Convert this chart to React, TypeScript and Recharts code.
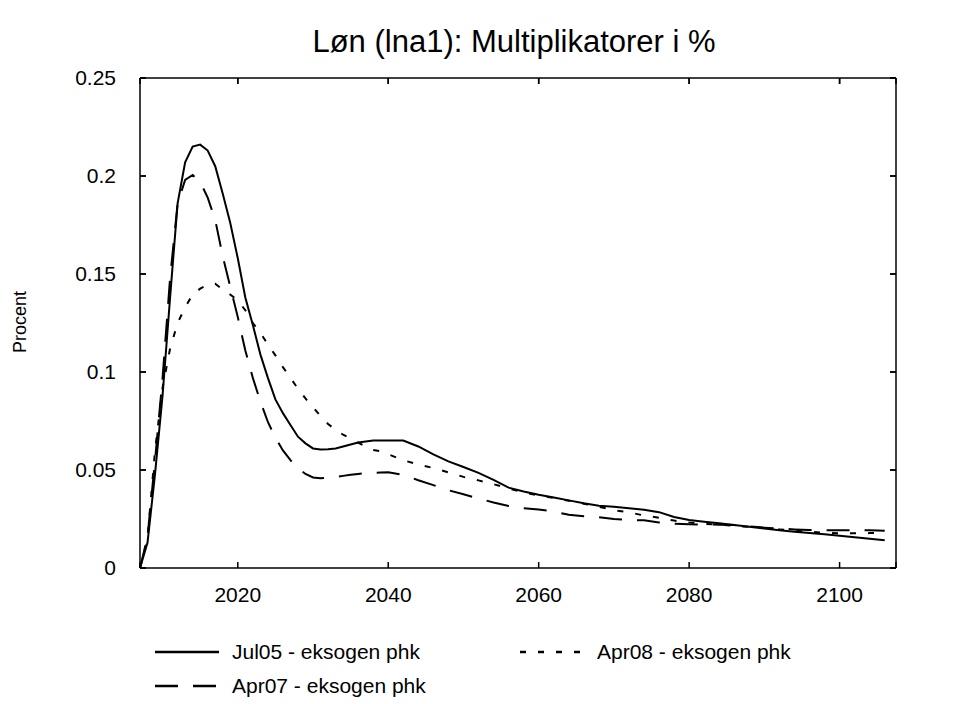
import { LineChart, Line, XAxis, YAxis, CartesianGrid } from "recharts";

const years = [
  2007, 2008, 2009, 2010, 2011, 2012, 2013, 2014, 2015, 2016, 2017, 2018,
  2019, 2020, 2021, 2022, 2023, 2024, 2025, 2026, 2027, 2028, 2029, 2030,
  2031, 2032, 2033, 2034, 2035, 2036, 2037, 2038, 2039, 2040, 2042, 2044,
  2046, 2048, 2050, 2052, 2054, 2056, 2058, 2060, 2062, 2064, 2066, 2068,
  2070, 2072, 2074, 2076, 2078, 2080, 2082, 2084, 2086, 2088, 2090, 2092,
  2094, 2096, 2098, 2100, 2102, 2104, 2106,
];

const jul05 = [
  0, 0.013, 0.048, 0.088, 0.138, 0.186, 0.207, 0.215, 0.216, 0.213, 0.205,
  0.191, 0.176, 0.158, 0.138, 0.124, 0.109, 0.097, 0.086, 0.079, 0.073, 0.067,
  0.0636, 0.061, 0.0605, 0.0606, 0.061, 0.062, 0.063, 0.064, 0.0645, 0.065,
  0.065, 0.065, 0.065, 0.062, 0.058, 0.0544, 0.0515, 0.0485, 0.045, 0.041,
  0.039, 0.0374, 0.036, 0.0345, 0.033, 0.0318, 0.0312, 0.0305, 0.0297, 0.0285,
  0.026, 0.0245, 0.0236, 0.0228, 0.0219, 0.021, 0.0201, 0.0192, 0.0185,
  0.0178, 0.0172, 0.0164, 0.0157, 0.0149, 0.0141,
];

const apr07 = [
  0, 0.016, 0.055, 0.097, 0.148, 0.186, 0.198, 0.2005, 0.197, 0.189, 0.1776,
  0.159, 0.1435, 0.128, 0.111, 0.097, 0.085, 0.0745, 0.0665, 0.06, 0.055,
  0.051, 0.048, 0.0462, 0.0458, 0.046, 0.0464, 0.047, 0.0476, 0.048, 0.0484,
  0.0486, 0.0487, 0.0488, 0.0475, 0.0448, 0.0423, 0.0397, 0.0376, 0.0355,
  0.0334, 0.0316, 0.0305, 0.0299, 0.0288, 0.0272, 0.0264, 0.0259, 0.025,
  0.0245, 0.0243, 0.0232, 0.0226, 0.0223, 0.0222, 0.0221, 0.0219, 0.0212,
  0.0206, 0.0201, 0.0197, 0.0194, 0.0193, 0.0193, 0.0193, 0.0192, 0.019,
];

const apr08 = [
  0, 0.015, 0.06, 0.092, 0.112, 0.125, 0.133, 0.1395, 0.1425, 0.1445, 0.145,
  0.142, 0.1395, 0.1365, 0.1315, 0.125, 0.12, 0.114, 0.1085, 0.1025, 0.097,
  0.0915, 0.0865, 0.082, 0.0775, 0.0735, 0.0705, 0.068, 0.066, 0.064, 0.062,
  0.0602, 0.0595, 0.058, 0.055, 0.0528, 0.051, 0.0488, 0.0465, 0.0447, 0.0428,
  0.0405, 0.0386, 0.037, 0.0357, 0.0343, 0.0328, 0.0312, 0.0295, 0.0284,
  0.0268, 0.0256, 0.0242, 0.0232, 0.0225, 0.0221, 0.0215, 0.021, 0.0204,
  0.0197, 0.0191, 0.0185, 0.018, 0.0177, 0.0177, 0.0178, 0.0178,
];

const xTicks = [2020, 2040, 2060, 2080, 2100];
const yTicks = [0, 0.05, 0.1, 0.15, 0.2, 0.25];

const SERIES = [
  { key: "jul05", name: "Jul05 - eksogen phk", dash: undefined },
  { key: "apr07", name: "Apr07 - eksogen phk", dash: "23 15" },
  { key: "apr08", name: "Apr08 - eksogen phk", dash: "6 12" },
];

const data = years.map((year, i) => ({
  year,
  jul05: jul05[i],
  apr07: apr07[i],
  apr08: apr08[i],
}));

const FONT = '"Liberation Sans", Arial, sans-serif';
const W = 968;
const H = 704;
const MARGIN = { top: 78, right: 0, bottom: 96, left: 0 };
const LEFT_W = 140;
const RIGHT_W = 72;
const BOTTOM_H = 40;
const PLOT_W = W - MARGIN.left - MARGIN.right - LEFT_W - RIGHT_W;
const PLOT_H = H - MARGIN.top - MARGIN.bottom - BOTTOM_H;

const axisLine = { stroke: "#000", strokeWidth: 1.5 };
const fmtY = (v: number) => String(Number(v.toFixed(2)));
const X_DOMAIN: [number, number] = [2007, 2107.5];
const Y_DOMAIN: [number, number] = [0, 0.25];
const GAP_Y = 24; // label distance from frame, y axes
const GAP_X = 19; // label distance from frame, x axis
const MARK = 6; // inward tick mark length
const textProps = { fontSize: 21, fill: "#000", fontFamily: FONT };

// left axis: label + inward marks on left and right frame sides
function LeftTick(props: any) {
  const x = Number(props.x);
  const y = Number(props.y);
  const fx = x + GAP_Y;
  return (
    <g>
      <path
        d={`M${fx},${y}h${MARK}M${fx + PLOT_W},${y}h${-MARK}`}
        stroke="#000"
        strokeWidth={1.5}
        fill="none"
      />
      <text x={x} y={y} dy="0.35em" textAnchor="end" {...textProps}>
        {fmtY(props.payload.value)}
      </text>
    </g>
  );
}

// top (mirrored) axis: inward marks on the top frame side
function TopTick(props: any) {
  const x = Number(props.x);
  const y = Number(props.y);
  return (
    <path d={`M${x},${y}v${MARK}`} stroke="#000" strokeWidth={1.5} fill="none" />
  );
}

// legend slots: [left of sample, top of row]
const LEGEND_POS = [
  [155, 640],
  [155, 674],
  [520, 640],
];

export default function App() {
  return (
    <div
      style={{
        position: "absolute",
        left: 0,
        top: 0,
        width: W,
        height: H,
        background: "#fff",
        fontFamily: FONT,
      }}
    >
      <div
        style={{
          position: "absolute",
          top: 26,
          left: 0,
          width: 1028,
          textAlign: "center",
          fontSize: 31,
          lineHeight: 1,
        }}
      >
        Løn (lna1): Multiplikatorer i %
      </div>
      <div
        style={{
          position: "absolute",
          left: 20,
          top: 322,
          fontSize: 18,
          lineHeight: 1,
          whiteSpace: "nowrap",
          transform: "translate(-50%, -50%) rotate(-90deg)",
        }}
      >
        Procent
      </div>

      <LineChart width={W} height={H} data={data} margin={MARGIN}>
        {/* grid dashed so only short marks at both frame ends remain */}
        <CartesianGrid
          xAxisId="bottom"
          yAxisId="left"
          vertical={false}
          stroke="#000"
          strokeWidth={1.5}
          strokeDasharray={`${MARK} ${PLOT_W - 2 * MARK} ${MARK}`}
        />
        <CartesianGrid
          xAxisId="bottom"
          yAxisId="left"
          horizontal={false}
          stroke="#000"
          strokeWidth={1.5}
          strokeDasharray={`${MARK} ${PLOT_H - 2 * MARK} ${MARK}`}
        />
        <XAxis
          xAxisId="bottom"
          dataKey="year"
          type="number"
          domain={X_DOMAIN}
          ticks={xTicks}
          height={BOTTOM_H}
          tickSize={0}
          tickLine={false}
          tickMargin={GAP_X}
          tick={textProps}
          axisLine={axisLine}
        />
        <XAxis
          xAxisId="top"
          orientation="top"
          mirror
          dataKey="year"
          type="number"
          domain={X_DOMAIN}
          ticks={xTicks}
          height={20}
          tickSize={0}
          tickMargin={0}
          tickLine={false}
          tick={(p: any) => <TopTick {...p} />}
          axisLine={axisLine}
        />
        <YAxis
          yAxisId="left"
          type="number"
          domain={Y_DOMAIN}
          ticks={yTicks}
          width={LEFT_W}
          tickSize={0}
          tickLine={false}
          tickMargin={GAP_Y}
          tick={(p: any) => <LeftTick {...p} />}
          axisLine={axisLine}
        />
        <YAxis
          yAxisId="right"
          orientation="right"
          type="number"
          domain={Y_DOMAIN}
          ticks={yTicks}
          width={RIGHT_W}
          tickSize={0}
          tickLine={false}
          tickMargin={GAP_Y}
          tick={textProps}
          tickFormatter={fmtY}
          axisLine={axisLine}
        />
        {SERIES.map((s) => (
          <Line
            key={s.key}
            xAxisId="bottom"
            yAxisId="left"
            type="linear"
            dataKey={s.key}
            name={s.name}
            stroke="#000"
            strokeWidth={2}
            strokeDasharray={s.dash}
            dot={false}
            activeDot={false}
            isAnimationActive={false}
          />
        ))}
      </LineChart>

      {SERIES.map((s, i) => (
        <div
          key={s.key}
          style={{
            position: "absolute",
            left: LEGEND_POS[i][0],
            top: LEGEND_POS[i][1],
            display: "flex",
            alignItems: "center",
            fontSize: 21,
            lineHeight: "24px",
            whiteSpace: "nowrap",
          }}
        >
          <svg width={64} height={10} style={{ marginRight: 13 }}>
            <line
              x1={0}
              y1={5}
              x2={64}
              y2={5}
              stroke="#000"
              strokeWidth={2.5}
              strokeDasharray={s.dash}
            />
          </svg>
          {s.name}
        </div>
      ))}
    </div>
  );
}
